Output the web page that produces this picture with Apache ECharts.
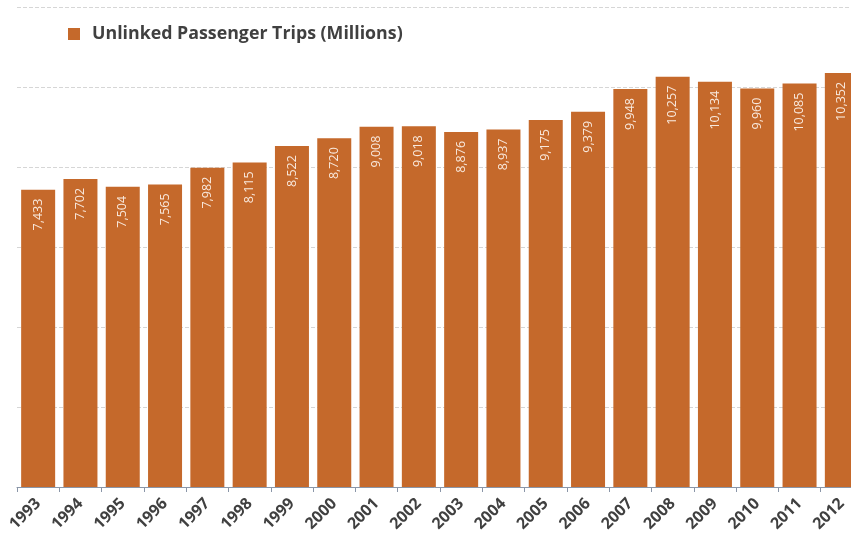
<!DOCTYPE html>
<html>
<head>
<meta charset="utf-8">
<script src="https://cdn.jsdelivr.net/npm/echarts@6/dist/echarts.min.js"></script>
<style>
  html, body { margin: 0; padding: 0; background: #fff; }
  #main { width: 851px; height: 535px; }
</style>
</head>
<body>
<div id="main"></div>
<script>
// data
const years = ['1993', '1994', '1995', '1996', '1997', '1998', '1999', '2000', '2001', '2002',
  '2003', '2004', '2005', '2006', '2007', '2008', '2009', '2010', '2011', '2012'];
const trips = [7433, 7702, 7504, 7565, 7982, 8115, 8522, 8720, 9008, 9018,
  8876, 8937, 9175, 9379, 9948, 10257, 10134, 9960, 10085, 10352];
const seriesName = 'Unlinked Passenger Trips (Millions)';

const barColor = '#c5692b';

let myChart = echarts.init(document.getElementById('main'));
let option = {
  animation: false,
  legend: {
    left: 63,
    top: 20,
    itemWidth: 12,
    itemHeight: 12,
    icon: 'rect',
    textStyle: {
      fontFamily: 'Open Sans',
      fontWeight: 'bold',
      fontSize: 17.8,
      color: '#404040',
      padding: [0, 0, 0, 7]
    },
    data: [seriesName]
  },
  grid: {
    left: 17,
    top: 7,
    right: -12,
    bottom: 48,
    outerBoundsMode: 'none'
  },
  xAxis: {
    type: 'category',
    data: years,
    axisLine: { lineStyle: { color: '#8a96a8', width: 1 } },
    axisTick: { show: true, length: 5, lineStyle: { color: '#8a96a8' } },
    axisLabel: {
      rotate: 45,
      margin: 14,
      fontFamily: 'Open Sans',
      fontWeight: 'bold',
      fontSize: 16,
      color: '#404040'
    }
  },
  yAxis: {
    type: 'value',
    min: 0,
    max: 12000,
    interval: 2000,
    axisLabel: { show: false },
    axisLine: { show: false },
    axisTick: { show: false },
    splitLine: { lineStyle: { color: '#d6d6d6', type: 'dashed', width: 1 } }
  },
  series: [{
    name: seriesName,
    type: 'bar',
    data: trips,
    barWidth: 34,
    itemStyle: { color: barColor },
    label: {
      show: true,
      position: 'insideTop',
      rotate: 90,
      align: 'right',
      verticalAlign: 'middle',
      distance: 9,
      fontFamily: 'Open Sans',
      fontSize: 12.5,
      color: '#f8e8dc',
      formatter: p => p.value.toLocaleString('en-US')
    }
  }]
};
myChart.setOption(option);
</script>
</body>
</html>
